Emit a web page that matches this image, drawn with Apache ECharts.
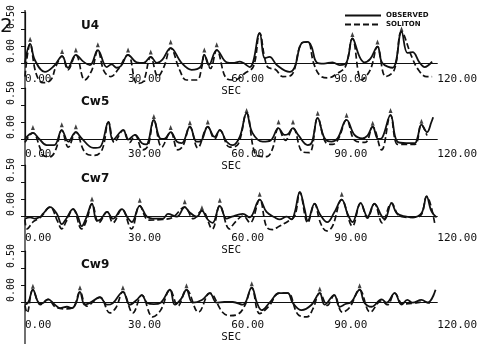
<!DOCTYPE html>
<html>
<head>
<meta charset="utf-8">
<script src="https://cdn.jsdelivr.net/npm/echarts@6/dist/echarts.min.js"></script>
<style>
  html, body { margin: 0; padding: 0; background: #fff; }
  #main { width: 480px; height: 344px; }
</style>
</head>
<body>
<div id="main"></div>
<script>
// gauge names
var panels = ["U4", "Cw5", "Cw7", "Cw9"];
var xTicks = [0, 30, 60, 90, 120];

// [sec, value]
var obsU4 = [[0,0],[1.5,0.28],[2.9,0.04],[5.8,-0.13],[8.5,-0.04],[10.8,0.10],[12.5,-0.07],[14.8,0.12],[17,0.02],[18.9,-0.03],[21.2,0.19],[23.8,-0.06],[25.2,-0.02],[26.7,-0.07],[28,-0.04],[30,0.12],[32.5,0.01],[34.5,0.0],[36.6,0.09],[38.4,0],[40,0.05],[42.4,0.22],[45.6,0],[48.5,-0.1],[51,-0.06],[52.2,0.12],[53.5,-0.03],[55.8,0.19],[58.7,0.01],[60.5,0],[62.5,0.02],[65.4,-0.06],[68.3,0.44],[69.8,0.07],[71.2,0.09],[73.3,-0.03],[77,-0.13],[78.5,-0.06],[80.5,0.29],[82.3,0.31],[83.4,0.24],[84.9,0.01],[87,-0.01],[89.5,0.01],[91.6,-0.03],[93.6,0.01],[95.3,0.36],[97.4,0.09],[98.8,0.01],[100.5,0.06],[102.6,0.24],[104,0],[107,-0.07],[109.6,0.46],[111.3,0.15],[112.8,0.16],[114.8,0.01],[116.3,-0.06],[118.5,0.02]];
var solU4 = [[0,-0.2],[1.5,0.28],[3.2,-0.15],[5.2,-0.29],[7.5,-0.25],[9,-0.05],[10.8,0.10],[12.5,-0.1],[14.8,0.12],[17.4,-0.25],[19.5,-0.1],[21.2,0.19],[23,-0.12],[25,-0.2],[27,-0.1],[30,0.12],[32.6,-0.3],[34.3,-0.28],[36.6,0.09],[38.7,-0.2],[40.5,-0.05],[42.4,0.22],[45,-0.1],[47,-0.25],[50,-0.25],[51.5,-0.05],[52.2,0.12],[54,-0.08],[55.8,0.19],[58.7,-0.23],[61,-0.25],[64,-0.15],[66.5,-0.05],[68.3,0.44],[70.5,-0.05],[73,-0.1],[75,-0.2],[77.5,-0.18],[80.5,0.29],[82.3,0.31],[84,0.0],[85.8,-0.18],[88,-0.22],[91,-0.15],[93.3,-0.05],[95.3,0.36],[98,-0.25],[100.5,-0.1],[102.6,0.24],[105,-0.2],[107.5,-0.1],[109.6,0.46],[112.5,0.1],[114.5,-0.1],[116.9,-0.2],[118.5,-0.2]];

var obsCw5 = [[0,0],[2.3,0.09],[4,0.01],[6.3,-0.09],[8.5,-0.09],[10.7,0.13],[12.6,-0.04],[14.8,0.10],[16.5,0.01],[19.9,-0.13],[21.8,-0.12],[24.3,0.25],[25.6,-0.01],[28.6,0.13],[30,-0.01],[32,0.06],[34,-0.06],[35.3,-0.08],[37.5,0.28],[39.3,0.01],[40.5,0.0],[42.4,0.10],[44.2,-0.04],[45.6,-0.06],[48,0.18],[50,-0.04],[51.2,-0.03],[53.2,0.18],[55.2,0.03],[56.7,0.13],[58.7,-0.04],[60.5,-0.09],[62.5,0.03],[64.5,0.38],[66.2,0.09],[69.2,-0.04],[71.5,-0.02],[73.8,0.16],[75.5,0.06],[76.5,0.07],[78,0.16],[79.5,0.06],[82.3,-0.09],[83.5,-0.05],[85.2,0.31],[87.2,0.01],[89.2,-0.04],[91,0.01],[93.6,0.28],[95.9,0.06],[98.2,0.01],[99.7,0.05],[101.2,0.18],[102.8,0.0],[104,0.02],[106.4,0.35],[108.4,-0.04],[111,-0.06],[113.5,-0.06],[114.2,0.01],[115.4,0.21],[117,0.1],[118.3,0.25],[118.8,0.32]];
var solCw5 = [[0,-0.05],[2.3,0.09],[4.5,-0.15],[5.2,-0.24],[7.3,-0.26],[9,-0.15],[10.7,0.13],[12.6,-0.12],[14.8,0.10],[17.5,-0.2],[20.3,-0.24],[22.5,-0.15],[24.3,0.25],[26,-0.05],[28.6,0.13],[30.5,-0.05],[32,0.06],[34.3,-0.16],[35.8,-0.1],[37.5,0.28],[39.8,-0.12],[42.4,0.10],[44.5,-0.16],[46,-0.1],[48,0.18],[50.3,-0.13],[53.2,0.18],[55.2,0.0],[56.7,0.13],[59.6,-0.12],[62,-0.08],[64.5,0.38],[67.4,-0.24],[70.3,-0.26],[72,-0.15],[73.8,0.16],[75.8,-0.02],[78,0.16],[80.8,-0.19],[82.8,-0.2],[85.2,0.31],[87.5,-0.05],[89.5,-0.08],[91.2,0],[93.6,0.28],[96,-0.02],[99,-0.05],[101.2,0.18],[103.8,-0.16],[106.4,0.35],[108.5,-0.08],[111,-0.08],[113.5,-0.08],[115.4,0.21],[117,0.05]];

var obsCw7 = [[0,-0.04],[1.5,-0.02],[2.9,-0.04],[4.5,-0.01],[5.2,0.03],[7.3,0.13],[9.3,0.03],[10.7,-0.12],[12,-0.04],[14,0.1],[15.4,-0.01],[16.5,-0.15],[17.8,-0.03],[19.5,0.18],[20.9,-0.07],[22,-0.05],[23.9,0.06],[25.6,-0.04],[28.2,0.1],[29.8,-0.02],[31.1,-0.09],[33.4,0.15],[35.5,-0.01],[37.8,-0.04],[40.1,-0.04],[41.6,0.03],[44.2,-0.01],[46.5,0.13],[47.8,0.06],[50,-0.01],[51.5,0.08],[53,-0.04],[54.6,-0.1],[56.7,0.15],[58.7,-0.04],[60.2,-0.01],[63.4,0.03],[65.4,-0.02],[68.3,0.24],[70.3,0.06],[73,-0.03],[74.1,-0.05],[76.2,-0.01],[77.6,-0.05],[78.5,0.05],[80,0.35],[81.4,0.1],[82.3,-0.07],[84.3,0.18],[85.8,0.03],[88,-0.09],[90,0.05],[92.2,0.24],[93.9,0.03],[95.3,-0.09],[97.7,0.19],[99.7,-0.01],[101.7,0.18],[103.8,0.0],[104.7,-0.05],[106.7,0.19],[108.2,0.04],[111,-0.01],[112.8,-0.02],[115.4,0.04],[116.9,0.29],[118.3,0.07],[119.8,-0.02]];
var solCw7 = [[0,-0.05],[0.6,-0.19],[2.5,-0.08],[4.5,-0.02],[7.3,0.13],[9.5,-0.08],[10.7,-0.19],[12,-0.08],[14,0.1],[16.5,-0.19],[18,-0.05],[19.5,0.18],[21.5,-0.1],[23.9,0.06],[25.6,-0.1],[28.2,0.1],[31,-0.19],[33.4,0.15],[36,-0.06],[40,-0.05],[43,-0.02],[46.5,0.13],[49,-0.04],[51.5,0.08],[54.5,-0.19],[56.7,0.15],[59.5,-0.19],[61,-0.1],[63.5,0],[65.5,-0.1],[68.3,0.24],[70.3,-0.16],[72,-0.2],[74,-0.15],[76.5,-0.08],[78.5,0.0],[80,0.35],[82.3,-0.1],[84.3,0.18],[86,-0.1],[87.8,-0.22],[89.5,-0.15],[92.2,0.24],[95.3,-0.15],[97.7,0.19],[99.7,-0.03],[101.7,0.18],[104,-0.1],[106.7,0.19],[109,0.0],[112,-0.02],[115,0.0],[116.9,0.29],[119.3,-0.12]];

var obsCw9 = [[0,-0.04],[1,0],[2.3,0.18],[4,-0.01],[5,-0.02],[6.7,0.04],[8.7,-0.04],[10.2,-0.09],[12.2,-0.07],[13.7,-0.09],[14.8,-0.02],[16,0.15],[17.4,-0.04],[19,-0.01],[21.8,0.07],[23.8,-0.04],[25.5,-0.02],[28.5,0.15],[30.5,-0.04],[32.5,0.03],[34,0.1],[35.5,-0.01],[37.5,-0.03],[39.5,-0.01],[42.2,0.18],[43.6,-0.04],[45.5,0.05],[47,0.18],[48.8,-0.01],[51.5,0.03],[53.8,0.13],[55.8,-0.01],[58,0.0],[60.5,0.0],[63.4,-0.04],[66,0.21],[67.5,-0.01],[68.9,-0.12],[71.2,-0.01],[74,0.13],[76.5,0.13],[77.9,-0.01],[80.5,-0.12],[83.4,-0.04],[85.8,0.13],[87.2,-0.04],[90,0.1],[91.6,-0.07],[93.3,-0.03],[95,0.0],[97.4,0.18],[98.8,-0.01],[100.9,-0.07],[103.8,0.04],[105.2,-0.01],[107.6,0.13],[109.6,-0.04],[111.3,0.03],[112.8,-0.01],[115.4,0.03],[117.2,-0.01],[119.5,0.18]];
var solCw9 = [[0,-0.05],[0.6,-0.16],[2.3,0.18],[4.5,-0.04],[6.7,0.04],[9,-0.08],[11.5,-0.1],[14,-0.08],[16,0.15],[18,-0.06],[21.8,0.07],[24.7,-0.16],[26.5,-0.08],[28.5,0.15],[31.4,-0.16],[34,0.1],[37.2,-0.22],[39.5,-0.12],[42.2,0.18],[44.5,-0.06],[47,0.18],[50.5,-0.15],[53.8,0.13],[57.5,-0.15],[59.6,-0.2],[62,-0.18],[64,-0.05],[66,0.21],[68.3,-0.17],[71,-0.06],[74,0.13],[76.5,0.13],[79.4,-0.18],[82,-0.22],[83.8,-0.1],[85.8,0.13],[88,-0.05],[90,0.1],[92.4,-0.15],[94.5,-0.08],[97.4,0.18],[100.5,-0.15],[103.8,0.02],[105.5,-0.04],[107.6,0.13],[110,-0.03],[113,-0.02],[116,0.0],[118,-0.02]];

// soliton crest marks
var peaksU4 = [[1.5,0.35],[10.8,0.17],[14.8,0.19],[21.2,0.27],[30,0.19],[36.6,0.16],[42.4,0.31],[52.2,0.19],[55.8,0.27],[95.3,0.42],[102.6,0.31],[109.6,0.5]];
var peaksCw5 = [[2.3,0.17],[10.7,0.21],[14.8,0.18],[37.5,0.33],[42.4,0.17],[48,0.24],[53.2,0.25],[64.5,0.42],[73.8,0.25],[78,0.25],[85.2,0.38],[93.6,0.35],[101.2,0.23],[106.4,0.42],[115.4,0.26]];
var peaksCw7 = [[19.5,0.25],[33.4,0.23],[46.5,0.21],[51.5,0.12],[56.7,0.23],[68.3,0.32],[92.2,0.32]];
var peaksCw9 = [[2.3,0.23],[16,0.21],[28.5,0.21],[47,0.24],[66,0.27],[85.8,0.19],[97.4,0.24]];

var obsAll = [obsU4, obsCw5, obsCw7, obsCw9];
var solAll = [solU4, solCw5, solCw7, solCw9];
var peakAll = [peaksU4, peaksCw5, peaksCw7, peaksCw9];

var ink = "#111";
var mono = "DejaVu Sans Mono";
var zeroY = [63, 139, 216, 302];     // pixel row of each zero line
var labelGap = [11, 10, 17, 18];
var secGap = [22, 21, 26, 27];

var grids = [], xAxes = [], yAxes = [], series = [], titles = [];

panels.forEach(function (name, i) {
  // grid bottom sits on the zero line, troughs are drawn below it unclipped
  grids.push({ left: 25, right: 42, top: zeroY[i] - 51, height: 51 });

  xAxes.push({
    gridIndex: i,
    type: "value",
    min: 0,
    max: 120,
    interval: 30,
    name: "SEC",
    nameLocation: "middle",
    nameGap: secGap[i],
    nameTextStyle: { color: ink, fontFamily: mono, fontSize: 11 },
    axisLine: { onZero: false, lineStyle: { color: ink, width: 1.2 } },
    axisTick: { show: false },
    splitLine: { show: false },
    axisLabel: {
      color: ink,
      fontFamily: mono,
      fontSize: 11,
      align: "left",
      margin: labelGap[i],
      showMaxLabel: true,
      formatter: function (v) { return v.toFixed(2); },
    },
  });

  yAxes.push({
    gridIndex: i,
    type: "value",
    min: 0,
    max: 0.75,
    interval: 0.25,
    axisLine: { show: true, onZero: false, lineStyle: { color: ink, width: 1.2 } },
    axisTick: { show: true, length: 4, lineStyle: { color: ink } },
    splitLine: { show: false },
    axisLabel: {
      color: ink,
      fontFamily: mono,
      fontSize: 10,
      rotate: 90,
      margin: 14,
      align: "left",
      verticalAlign: "middle",
      formatter: function (v) {
        if (Math.abs(v) < 1e-9) return "0.00";
        if (Math.abs(v - 0.5) < 1e-9) return "0.50";
        return "";
      },
    },
  });

  titles.push({
    text: name,
    left: 76,
    top: zeroY[i] - 48,
    textStyle: { color: ink, fontSize: 12, fontWeight: "bold", fontFamily: "DejaVu Sans" },
  });

  series.push({
    name: "OBSERVED",
    type: "line",
    xAxisIndex: i,
    yAxisIndex: i,
    data: obsAll[i],
    smooth: 0.4,
    symbol: "none",
    clip: false,
    lineStyle: { color: ink, width: 1.8 },
    itemStyle: { color: ink },
  });
  series.push({
    name: "SOLITON",
    type: "line",
    xAxisIndex: i,
    yAxisIndex: i,
    data: solAll[i],
    smooth: 0.4,
    symbol: "none",
    clip: false,
    lineStyle: { color: ink, width: 1.7, type: [6, 3] },
    itemStyle: { color: ink },
  });
  series.push({
    type: "scatter",
    xAxisIndex: i,
    yAxisIndex: i,
    data: peakAll[i],
    symbol: "triangle",
    symbolSize: [4, 5],
    clip: false,
    silent: true,
    itemStyle: { color: ink },
  });
});

var option = {
  backgroundColor: "#fff",
  animation: false,
  title: titles,
  legend: {
    data: ["OBSERVED", "SOLITON"],
    orient: "vertical",
    left: 339,
    top: 7,
    itemWidth: 36,
    itemHeight: 6,
    itemGap: 2,
    itemStyle: { opacity: 0 },
    textStyle: { color: ink, fontSize: 7, fontWeight: "bold", fontFamily: "DejaVu Sans" },
  },
  grid: grids,
  xAxis: xAxes,
  yAxis: yAxes,
  series: series,
  graphic: [
    { type: "line", shape: { x1: 25, y1: 10, x2: 25, y2: 344 }, style: { stroke: ink, lineWidth: 1.2 } },
    { type: "text", left: 0, top: 17, style: { text: "2", fontSize: 20, fill: ink, fontFamily: "DejaVu Sans" } },
  ],
};

var myChart = echarts.init(document.getElementById("main"), null, { renderer: "canvas" });
myChart.setOption(option);
</script>
</body>
</html>
